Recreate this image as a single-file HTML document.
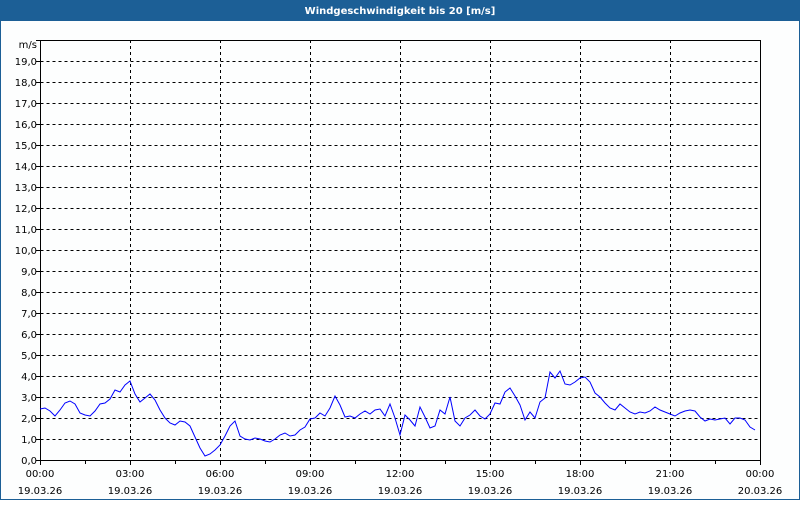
<!DOCTYPE html>
<html><head><meta charset="utf-8"><style>
html,body{margin:0;padding:0;background:#fff}
svg text{font-family:"DejaVu Sans","Liberation Sans",sans-serif;font-size:10px;fill:#000}
</style></head><body>
<svg width="800" height="500" viewBox="0 0 800 500" xmlns="http://www.w3.org/2000/svg">
<rect x="0" y="0" width="800" height="500" fill="#fdfefe"/>
<rect x="0" y="0" width="800" height="21" fill="#1c5f96"/>
<rect x="0.5" y="0.5" width="799" height="499" fill="none" stroke="#1c5f96"/>
<text x="400" y="14" text-anchor="middle" style="fill:#fff;font-weight:bold;font-size:10px">Windgeschwindigkeit bis 20 [m/s]</text>
<g stroke="#000" stroke-dasharray="3,3" stroke-width="1">
<path d="M40.5 61.5H760M40.5 82.5H760M40.5 103.5H760M40.5 124.5H760M40.5 145.5H760M40.5 166.5H760M40.5 187.5H760M40.5 208.5H760M40.5 229.5H760M40.5 250.5H760M40.5 271.5H760M40.5 292.5H760M40.5 313.5H760M40.5 334.5H760M40.5 355.5H760M40.5 376.5H760M40.5 397.5H760M40.5 418.5H760M40.5 439.5H760"/>
<path d="M130.5 40V460M220.5 40V460M310.5 40V460M400.5 40V460M490.5 40V460M580.5 40V460M670.5 40V460"/>
</g>
<path d="M40.5 40V460.5H760.5V40" fill="none" stroke="#000"/>
<path d="M40.5 40.5H760" stroke="#000"/>
<g stroke="#000"><path d="M40.5 460V465M85.5 460V464M130.5 460V465M175.5 460V464M220.5 460V465M265.5 460V464M310.5 460V465M355.5 460V464M400.5 460V465M445.5 460V464M490.5 460V465M535.5 460V464M580.5 460V465M625.5 460V464M670.5 460V465M715.5 460V464M760.5 460V465"/>
<path d="M36 40.5H40M36 61.5H40M36 82.5H40M36 103.5H40M36 124.5H40M36 145.5H40M36 166.5H40M36 187.5H40M36 208.5H40M36 229.5H40M36 250.5H40M36 271.5H40M36 292.5H40M36 313.5H40M36 334.5H40M36 355.5H40M36 376.5H40M36 397.5H40M36 418.5H40M36 439.5H40M36 460.5H40"/></g>
<g text-anchor="end">
<text x="37" y="48">m/s</text>
<text x="37" y="65">19,0</text><text x="37" y="86">18,0</text><text x="37" y="107">17,0</text><text x="37" y="128">16,0</text><text x="37" y="149">15,0</text><text x="37" y="170">14,0</text><text x="37" y="191">13,0</text><text x="37" y="212">12,0</text><text x="37" y="233">11,0</text><text x="37" y="254">10,0</text><text x="37" y="275">9,0</text><text x="37" y="296">8,0</text><text x="37" y="317">7,0</text><text x="37" y="338">6,0</text><text x="37" y="359">5,0</text><text x="37" y="380">4,0</text><text x="37" y="401">3,0</text><text x="37" y="422">2,0</text><text x="37" y="443">1,0</text><text x="37" y="464">0,0</text>
</g>
<g text-anchor="middle">
<text x="40" y="477">00:00</text><text x="40" y="494">19.03.26</text>
<text x="130" y="477">03:00</text><text x="130" y="494">19.03.26</text>
<text x="220" y="477">06:00</text><text x="220" y="494">19.03.26</text>
<text x="310" y="477">09:00</text><text x="310" y="494">19.03.26</text>
<text x="400" y="477">12:00</text><text x="400" y="494">19.03.26</text>
<text x="490" y="477">15:00</text><text x="490" y="494">19.03.26</text>
<text x="580" y="477">18:00</text><text x="580" y="494">19.03.26</text>
<text x="670" y="477">21:00</text><text x="670" y="494">19.03.26</text>
<text x="760" y="477">00:00</text><text x="760" y="494">20.03.26</text>
</g>
<polyline fill="none" stroke="#0000ff" stroke-width="1" points="40,409 45,408 50,411 55,416 60,410 65,403 70,401 75,404 80,413 85,415 90,416 95,411 100,404 105,403 110,399 115,390 120,392 125,385 130,381 135,394 140,402 145,398 150,394 155,400 160,410 165,418 170,423 175,425 180,421 185,422 190,426 195,437 200,448 205,456 210,454 215,450 220,445 225,436 230,426 235,421 240,436 245,439 250,440 255,438 260,439 265,441 270,442 275,439 280,435 285,433 290,436 295,435 300,430 305,427 310,419 315,418 320,413 325,416 330,408 335,396 340,405 345,417 350,416 355,418 360,414 365,411 370,414 375,410 380,409 385,416 390,404 395,418 400,435 405,415 410,420 415,426 420,407 425,417 430,428 435,426 440,410 445,414 450,397 455,421 460,426 465,418 470,415 475,410 480,416 485,419 490,414 495,403 500,404 505,392 510,388 515,396 520,405 525,420 530,412 535,418 540,402 545,398 550,372 555,378 560,371 565,384 570,385 575,382 580,378 585,377 590,382 595,393 600,397 605,403 610,408 615,410 620,404 625,408 630,412 635,414 640,412 645,413 650,411 655,407 660,410 665,412 670,414 675,416 680,413 685,411 690,410 695,411 700,417 705,421 710,419 715,420 720,419 725,418 730,424 735,418 740,418 745,420 750,427 755,430"/>
</svg>
</body></html>
